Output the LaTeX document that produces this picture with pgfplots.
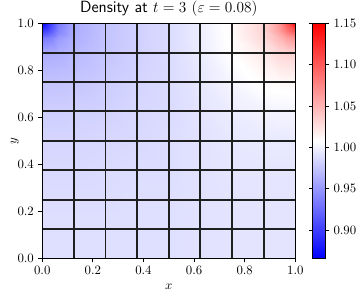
\documentclass[border=0pt]{standalone}
\usepackage{pgfplots}
\pgfplotsset{compat=1.18}
\begin{document}
\begin{tikzpicture}
\begin{axis}[
  name=main,
  view={0}{90},
  scale only axis,
  width=197.7pt, height=183.6pt,
  xmin=0, xmax=1, ymin=0, ymax=1,
  xtick={0,0.2,0.4,0.6,0.8,1},
  ytick={0,0.2,0.4,0.6,0.8,1},
  minor xtick={0.125,0.25,0.375,0.5,0.625,0.75,0.875},
  minor ytick={0.125,0.25,0.375,0.5,0.625,0.75,0.875},
  xminorgrids=true, yminorgrids=true,
  minor grid style={black!88, line width=1.5pt},
  minor tick length=0pt,
  major tick length=3pt,
  tick align=outside,
  xtick pos=left, ytick pos=left,
  tick style={black, line width=0.6pt},
  axis line style={black, line width=0.6pt},
  xticklabel style={/pgf/number format/.cd, fixed, fixed zerofill, precision=1},
  yticklabel style={/pgf/number format/.cd, fixed, fixed zerofill, precision=1},
  xlabel={$x$}, ylabel={$y$},
  ylabel shift=-8pt,
  title={\fontsize{12.7}{15}\selectfont\textsf{Density at} $t=3$ $(\varepsilon=0.08)$},
  title style={yshift=-4pt},
  axis on top,
  colormap={bwr}{rgb=(0,0,1) rgb=(1,1,1) rgb=(1,0,0)},
  point meta min=0.866, point meta max=1.15,
  colorbar,
  colorbar style={
    at={(parent axis.north east)}, anchor=north west, xshift=5pt,
    width=9.8pt, height=183.6pt, scale only axis,
    ytick={0.90,0.95,1.00,1.05,1.10,1.15},
    yticklabel style={/pgf/number format/.cd, fixed, fixed zerofill, precision=2},
    tick align=outside, major tick length=3pt,
    tick style={black, line width=0.6pt},
    axis line style={black, line width=0.6pt},
  },
]
\addplot3[surf, shader=interp, mesh/cols=13] table {
x y z
0 0 0.990
0.03125 0 0.990
0.0625 0 0.990
0.125 0 0.990
0.25 0 0.990
0.375 0 0.990
0.5 0 0.990
0.625 0 0.992
0.75 0 0.993
0.875 0 0.993
0.9375 0 0.993
0.96875 0 0.993
1 0 0.993
0 0.03125 0.990
0.03125 0.03125 0.990
0.0625 0.03125 0.990
0.125 0.03125 0.990
0.25 0.03125 0.990
0.375 0.03125 0.990
0.5 0.03125 0.990
0.625 0.03125 0.992
0.75 0.03125 0.993
0.875 0.03125 0.993
0.9375 0.03125 0.993
0.96875 0.03125 0.993
1 0.03125 0.993
0 0.0625 0.990
0.03125 0.0625 0.990
0.0625 0.0625 0.990
0.125 0.0625 0.990
0.25 0.0625 0.990
0.375 0.0625 0.990
0.5 0.0625 0.990
0.625 0.0625 0.992
0.75 0.0625 0.993
0.875 0.0625 0.993
0.9375 0.0625 0.993
0.96875 0.0625 0.993
1 0.0625 0.993
0 0.125 0.990
0.03125 0.125 0.990
0.0625 0.125 0.990
0.125 0.125 0.990
0.25 0.125 0.990
0.375 0.125 0.990
0.5 0.125 0.990
0.625 0.125 0.992
0.75 0.125 0.993
0.875 0.125 0.993
0.9375 0.125 0.993
0.96875 0.125 0.993
1 0.125 0.993
0 0.25 0.989
0.03125 0.25 0.989
0.0625 0.25 0.989
0.125 0.25 0.989
0.25 0.25 0.989
0.375 0.25 0.990
0.5 0.25 0.990
0.625 0.25 0.992
0.75 0.25 0.993
0.875 0.25 0.993
0.9375 0.25 0.993
0.96875 0.25 0.993
1 0.25 0.993
0 0.375 0.987
0.03125 0.375 0.987
0.0625 0.375 0.987
0.125 0.375 0.987
0.25 0.375 0.988
0.375 0.375 0.989
0.5 0.375 0.989
0.625 0.375 0.992
0.75 0.375 0.994
0.875 0.375 0.994
0.9375 0.375 0.994
0.96875 0.375 0.994
1 0.375 0.994
0 0.5 0.985
0.03125 0.5 0.985
0.0625 0.5 0.985
0.125 0.5 0.985
0.25 0.5 0.986
0.375 0.5 0.987
0.5 0.5 0.989
0.625 0.5 0.992
0.75 0.5 0.995
0.875 0.5 0.996
0.9375 0.5 0.996
0.96875 0.5 0.996
1 0.5 0.996
0 0.625 0.981
0.03125 0.625 0.981
0.0625 0.625 0.981
0.125 0.625 0.982
0.25 0.625 0.983
0.375 0.625 0.986
0.5 0.625 0.988
0.625 0.625 0.993
0.75 0.625 0.998
0.875 0.625 1.001
0.9375 0.625 1.002
0.96875 0.625 1.002
1 0.625 1.002
0 0.75 0.975
0.03125 0.75 0.975
0.0625 0.75 0.975
0.125 0.75 0.976
0.25 0.75 0.980
0.375 0.75 0.984
0.5 0.75 0.988
0.625 0.75 0.995
0.75 0.75 1.003
0.875 0.75 1.010
0.9375 0.75 1.011
0.96875 0.75 1.012
1 0.75 1.012
0 0.875 0.962
0.03125 0.875 0.9625
0.0625 0.875 0.964
0.125 0.875 0.969
0.25 0.875 0.976
0.375 0.875 0.9825
0.5 0.875 0.988
0.625 0.875 0.997
0.75 0.875 1.009
0.875 0.875 1.021
0.9375 0.875 1.030
0.96875 0.875 1.032
1 0.875 1.033
0 0.9375 0.934
0.03125 0.9375 0.939
0.0625 0.9375 0.952
0.125 0.9375 0.964
0.25 0.9375 0.975
0.375 0.9375 0.982
0.5 0.9375 0.988
0.625 0.9375 0.998
0.75 0.9375 1.010
0.875 0.9375 1.030
0.9375 0.9375 1.048
0.96875 0.9375 1.061
1 0.9375 1.067
0 0.96875 0.900
0.03125 0.96875 0.914
0.0625 0.96875 0.939
0.125 0.96875 0.9625
0.25 0.96875 0.975
0.375 0.96875 0.982
0.5 0.96875 0.988
0.625 0.96875 0.998
0.75 0.96875 1.011
0.875 0.96875 1.032
0.9375 0.96875 1.061
0.96875 0.96875 1.085
1 0.96875 1.103
0 1 0.866
0.03125 1 0.900
0.0625 1 0.934
0.125 1 0.962
0.25 1 0.975
0.375 1 0.982
0.5 1 0.988
0.625 1 0.998
0.75 1 1.011
0.875 1 1.033
0.9375 1 1.067
0.96875 1 1.103
1 1 1.153
};
\end{axis}
\pgfresetboundingbox
\path[use as bounding box] ([xshift=-33pt,yshift=-30.2pt]main.south west) rectangle ([xshift=48.2pt,yshift=18.2pt]main.north east);
\end{tikzpicture}
\end{document}
